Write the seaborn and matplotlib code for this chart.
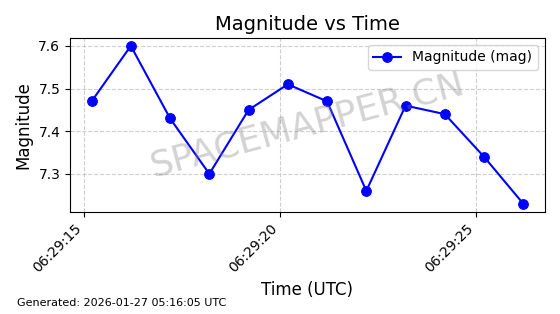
import matplotlib
matplotlib.use("Agg")
import matplotlib.pyplot as plt
import matplotlib.dates as mdates
import seaborn as sns
import pandas as pd

times = ["2026-01-27 06:29:15.2", "2026-01-27 06:29:16.2", "2026-01-27 06:29:17.2",
         "2026-01-27 06:29:18.2", "2026-01-27 06:29:19.2", "2026-01-27 06:29:20.2",
         "2026-01-27 06:29:21.2", "2026-01-27 06:29:22.2", "2026-01-27 06:29:23.2",
         "2026-01-27 06:29:24.2", "2026-01-27 06:29:25.2", "2026-01-27 06:29:26.2"]
magnitudes = [7.47, 7.60, 7.43, 7.30, 7.45, 7.51, 7.47, 7.26, 7.46, 7.44, 7.34, 7.23]

df = pd.DataFrame({"time": pd.to_datetime(times), "mag": magnitudes})

fig, ax = plt.subplots(figsize=(5.6, 3.14), dpi=100)
fig.subplots_adjust(left=0.125, right=0.973, top=0.879, bottom=0.326)

sns.lineplot(data=df, x="time", y="mag", ax=ax, color="blue", marker="o",
             markersize=7, markeredgecolor="blue", linewidth=1.5,
             label="Magnitude (mag)")

ax.set_title("Magnitude vs Time", fontsize=14)
ax.set_xlabel("Time (UTC)", fontsize=12)
ax.set_ylabel("Magnitude", fontsize=12)
ax.grid(True, linestyle="--", alpha=0.6)
ax.xaxis.set_major_locator(mdates.SecondLocator(bysecond=range(0, 60, 5)))
ax.xaxis.set_major_formatter(mdates.DateFormatter("%H:%M:%S"))
plt.setp(ax.get_xticklabels(), rotation=45, ha="right")
ax.legend(loc="upper right")

ax.text(0.5, 0.5, "SPACEMAPPER.CN", transform=ax.transAxes, fontsize=26,
        color="gray", alpha=0.35, rotation=15, ha="center", va="center")
fig.text(0.03, 0.025, "Generated: 2026-01-27 05:16:05 UTC", fontsize=8)

fig.savefig("out.png", dpi=100)
